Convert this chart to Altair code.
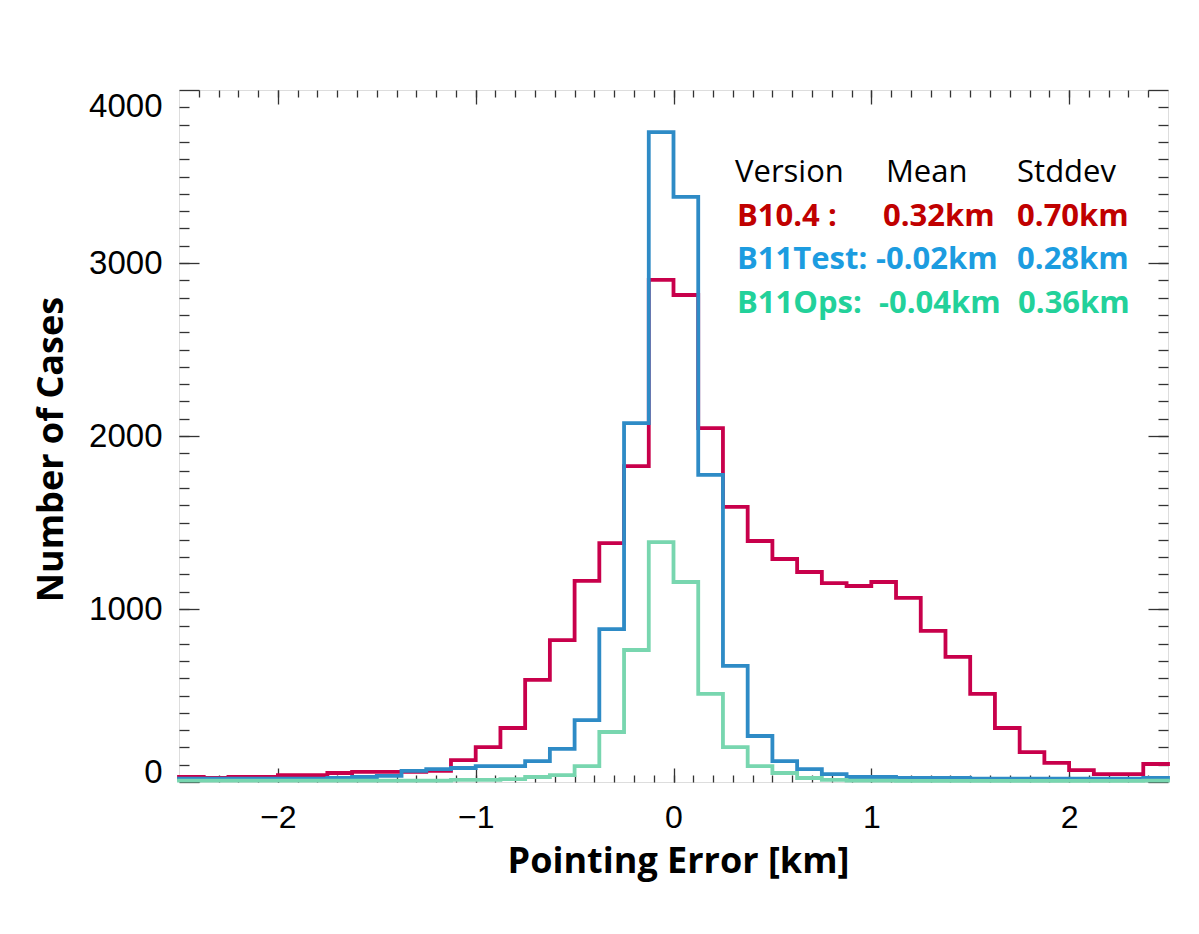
import altair as alt
import pandas as pd

# ---------------- data ----------------
BIN_START = -2.5
BIN_WIDTH = 0.125

b104 = [29, 23, 29, 29, 40, 40, 52, 58, 58, 58, 64, 127, 202, 312, 590, 820, 1162, 1381, 1826, 2902,
        2815, 2046, 1590, 1393, 1289, 1214, 1150, 1133, 1156, 1064, 873, 723, 509, 312, 173, 110, 69, 46, 46, 104]
b11test = [20, 20, 20, 20, 20, 20, 23, 29, 35, 64, 75, 81, 92, 92, 121, 191, 358, 884, 2075, 3757,
           3382, 1775, 671, 266, 121, 75, 46, 29, 29, 23, 23, 23, 20, 20, 20, 20, 20, 20, 20, 23]
b11ops = [8, 8, 8, 8, 8, 8, 8, 8, 8, 8, 8, 12, 12, 17, 29, 40, 92, 289, 763, 1387,
          1156, 509, 202, 92, 52, 23, 12, 8, 8, 6, 6, 6, 6, 6, 6, 6, 6, 6, 6, 8]

series_names = ["B10.4", "B11Test", "B11Ops"]
series_vals = [b104, b11test, b11ops]
line_colors = ["#C8004B", "#2E8BC6", "#78D6AF"]

x_major = [-2, -1, 0, 1, 2]
y_major = [0, 1000, 2000, 3000, 4000]
x_minor = [round(-2.4 + 0.1 * i, 1) for i in range(49)]
y_minor = [100 * i for i in range(1, 40)]

# annotation table
ann_text = ["Version", "Mean", "Stddev",
            "B10.4 :", "0.32km", "0.70km",
            "B11Test:", "-0.02km", "0.28km",
            "B11Ops:", "-0.04km", "0.36km"]
ann_x = [0.311, 1.074, 1.737,
         0.321, 1.059, 1.737,
         0.321, 1.024, 1.737,
         0.321, 1.039, 1.742]
ann_y = [3468, 3468, 3468,
         3214, 3214, 3214,
         2965, 2965, 2965,
         2711, 2711, 2711]
ann_color = ["#000000"] * 3 + ["#C00000"] * 3 + ["#1C9CE0"] * 3 + ["#22D19A"] * 3
ann_bold = [False] * 3 + [True] * 9

# ---------------- build tables ----------------
rows = []
for name, vals in zip(series_names, series_vals):
    for i, v in enumerate(vals):
        x0 = BIN_START + i * BIN_WIDTH
        rows.append(dict(series=name, x=x0, y=v, k=2 * i))
        rows.append(dict(series=name, x=x0 + BIN_WIDTH, y=v, k=2 * i + 1))
df = pd.DataFrame(rows)

ann = pd.DataFrame(dict(text=ann_text, x=ann_x, y=ann_y, c=ann_color, bold=ann_bold))

W, H = 989, 692
xs = alt.Scale(domain=[-2.5, 2.5], nice=False, zero=False)
ys = alt.Scale(domain=[0, 4000], nice=False, zero=False)

TICK_COLOR = "#333333"


def tick_axis(orient, values, size):
    return alt.Axis(orient=orient, values=values, labels=False, domain=False, grid=False,
                    title=None, ticks=True, tickSize=size, tickColor=TICK_COLOR,
                    tickWidth=1.3, offset=-size)


x_label_axis = alt.Axis(orient="bottom", values=x_major, format="d", ticks=False, domain=False,
                        grid=False, labelFont="Liberation Sans", labelFontSize=32,
                        labelColor="black", labelPadding=20,
                        title="Pointing Error [km]", titleFont="Open Sans", titleFontSize=36,
                        titleFontWeight="bold", titleColor="black",
                        titleX=499, titleY=90, titleBaseline="alphabetic", titleAlign="center")

y_label_axis = alt.Axis(orient="left", values=y_major, format="d", ticks=False, domain=False,
                        grid=False, labelFont="Liberation Sans", labelFontSize=33,
                        labelColor="black", labelPadding=17,
                        labelBaseline={"condition": [
                            {"test": "datum.value == 0", "value": "alphabetic"},
                            {"test": "datum.value == 4000", "value": "top"}],
                            "value": "middle"},
                        title="Number of Cases", titleFont="Open Sans", titleFontSize=36,
                        titleFontWeight="bold", titleColor="black",
                        titleX=-128, titleY=359, titleAngle=270, titleBaseline="middle",
                        titleAlign="center")

layers = []

# invisible layers that carry the inward tick axes
tick_specs = [
    (tick_axis("bottom", x_major, 14), tick_axis("left", y_major, 20)),
    (tick_axis("bottom", x_minor, 7), tick_axis("left", y_minor, 10)),
    (tick_axis("top", x_major, 14), tick_axis("right", y_major, 20)),
    (tick_axis("top", x_minor, 7), tick_axis("right", y_minor, 10)),
]
for xa, ya in tick_specs:
    layers.append(
        alt.Chart(df).mark_point(opacity=0).encode(
            x=alt.X("x:Q", scale=xs, axis=xa),
            y=alt.Y("y:Q", scale=ys, axis=ya),
        )
    )

# histogram step lines
for idx, (name, col) in enumerate(zip(series_names, line_colors)):
    layers.append(
        alt.Chart(df).transform_filter(alt.datum.series == name).mark_line(
            color=col, strokeWidth=3.8, strokeJoin="miter", strokeCap="square"
        ).encode(
            x=alt.X("x:Q", scale=xs, axis=x_label_axis if idx == 0 else None),
            y=alt.Y("y:Q", scale=ys, axis=y_label_axis if idx == 0 else None),
            order="k:Q",
        )
    )

# annotation text
for bold in (False, True):
    layers.append(
        alt.Chart(ann).transform_filter(alt.datum.bold == bold).mark_text(
            align="left", baseline="alphabetic", font="Open Sans", fontSize=31,
            fontWeight="bold" if bold else "normal"
        ).encode(
            x=alt.X("x:Q", scale=xs, axis=None),
            y=alt.Y("y:Q", scale=ys, axis=None),
            text="text:N",
            color=alt.Color("c:N", scale=None),
        )
    )

chart = alt.layer(*layers).resolve_axis(x="independent", y="independent").properties(
    width=W, height=H,
    padding={"left": 171, "top": 82, "right": 20, "bottom": 140},
    autosize=alt.AutoSizeParams(type="none"),
).configure_view(stroke="#333333", strokeWidth=1.5).configure(background="white")

chart.save("out.html", embed_options={"renderer": "svg", "actions": False})
